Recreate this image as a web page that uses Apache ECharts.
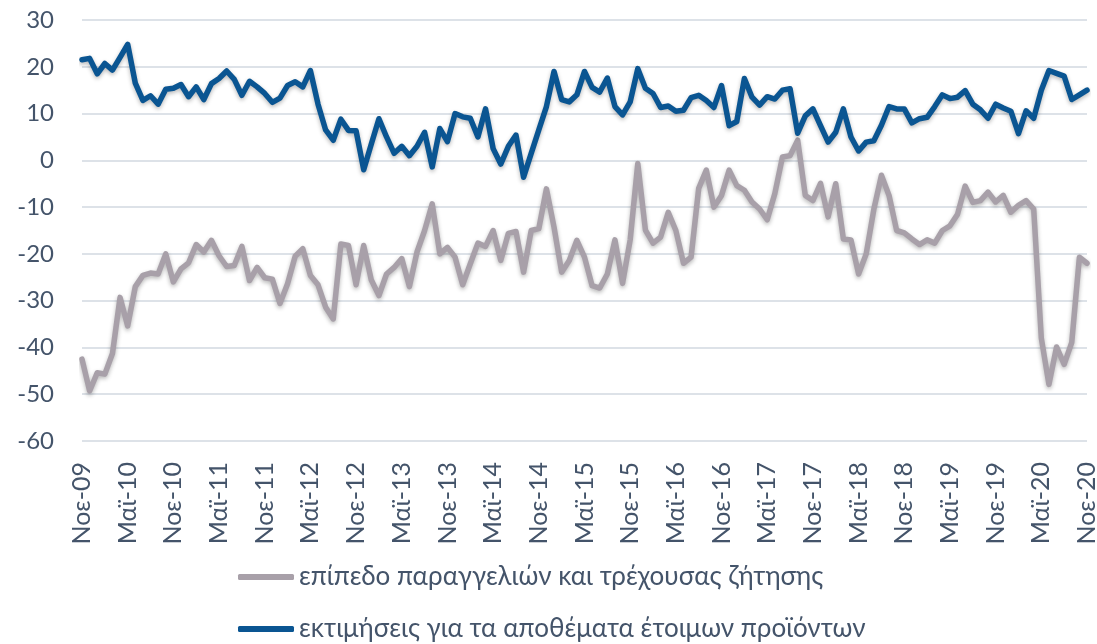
<!DOCTYPE html>
<html>
<head>
<meta charset="utf-8">
<script src="https://cdn.jsdelivr.net/npm/echarts@6/dist/echarts.min.js"></script>
<style>
  html, body { margin: 0; padding: 0; background: #fff; }
  #chart { width: 1097px; height: 644px; }
</style>
</head>
<body>
<div id="chart"></div>
<script>
// month labels, Nov-09 .. Nov-20
const monthNames = ['Ιαν', 'Φεβ', 'Μαρ', 'Απρ', 'Μαϊ', 'Ιουν', 'Ιουλ', 'Αυγ', 'Σεπ', 'Οκτ', 'Νοε', 'Δεκ'];
const startYear = 2009, startMonth = 10, monthCount = 133;
const categories = [];
for (let i = 0; i < monthCount; i++) {
    const m = (startMonth + i) % 12;
    const y = startYear + Math.floor((startMonth + i) / 12);
    categories.push(monthNames[m] + '-' + String(y).slice(2));
}

const seriesNames = [
    'επίπεδο παραγγελιών και τρέχουσας ζήτησης',
    'εκτιμήσεις για τα αποθέματα έτοιμων προϊόντων'
];

// orders / current demand
const ordersDemand = [
    -42.5, -49.3, -45.4, -45.7, -41.3, -29.3, -35.4, -27, -24.6, -24.1,
    -24.3, -20, -26, -23.2, -21.9, -18, -19.6, -17.1, -20.4, -22.7,
    -22.5, -18.4, -25.7, -22.9, -25.1, -25.4, -30.6, -26.4, -20.5, -18.9,
    -24.6, -26.6, -31.4, -33.9, -17.9, -18.2, -26.6, -18.2, -25.6, -28.9,
    -24.3, -22.9, -21, -27, -19.6, -15, -9.3, -20, -18.6, -20.7,
    -26.6, -22.1, -17.7, -18.4, -15, -21.4, -15.6, -15.2, -23.9, -15,
    -14.6, -6.1, -14.3, -23.9, -21.4, -17.1, -20.7, -26.8, -27.3, -24.3,
    -17, -26.3, -17, -0.7, -14.9, -17.7, -16.4, -11.1, -15, -22,
    -20.7, -6, -2.1, -10, -7.5, -2.1, -5.4, -6.4, -8.9, -10.4,
    -12.7, -7.1, 0.7, 1, 4.3, -7.5, -8.6, -4.9, -12.1, -5,
    -16.8, -17, -24.3, -20, -10.5, -3.2, -7.5, -15, -15.5, -16.8,
    -18, -17, -17.7, -15, -14, -11.5, -5.5, -9, -8.6, -6.8,
    -8.9, -7.5, -11.1, -9.6, -8.6, -10.4, -38, -47.9, -39.9, -43.6,
    -38.9, -20.7, -22
];

// finished goods stocks
const stocks = [
    21.5, 21.8, 18.5, 20.7, 19.3, 22, 24.8, 16.5, 12.8, 13.8,
    12, 15.2, 15.4, 16.2, 13.6, 15.7, 13, 16.4, 17.5, 19.1,
    17.3, 13.9, 16.9, 15.7, 14.3, 12.4, 13.3, 16, 16.8, 15.7,
    19.2, 12, 6.5, 4.3, 8.8, 6.4, 6.3, -2, 3.5, 8.9,
    5, 1.5, 3, 1, 3, 6, -1.4, 6.8, 4, 10,
    9.3, 9, 5, 11, 2.5, -0.8, 3, 5.4, -3.6, 1.5,
    6.5, 11.5, 19, 13, 12.5, 14, 19, 15.6, 14.6, 17.6,
    11.5, 9.7, 12.5, 19.6, 15.4, 14.3, 11.3, 11.6, 10.5, 10.7,
    13.4, 13.9, 12.8, 11.3, 16, 7.4, 8.3, 17.5, 13.5, 11.8,
    13.6, 13.1, 15, 15.3, 5.8, 9.5, 11, 7.4, 3.9, 6,
    11, 5, 2, 3.9, 4.2, 7.5, 11.5, 11, 11, 8,
    8.9, 9.2, 11.5, 14, 13.2, 13.5, 14.9, 12, 10.8, 9,
    12, 11.2, 10.5, 5.7, 10.6, 9, 15, 19.2, 18.6, 18,
    13, 14, 15
];

const colors = ['#a8a0a9', '#0a5592'];
const textColor = '#44546a';
const fontFamily = "Lato, 'Noto Sans', sans-serif";

const chart = echarts.init(document.getElementById('chart'), null, { renderer: 'canvas' });

const lineSeries = (name, data, color) => ({
    type: 'line',
    name,
    data,
    showSymbol: false,
    symbol: 'none',
    smooth: false,
    lineStyle: {
        color,
        width: 5.5,
        cap: 'round',
        join: 'round',
        shadowColor: 'rgba(0,0,0,0.28)',
        shadowBlur: 4,
        shadowOffsetY: 2
    },
    itemStyle: { color },
    animation: false
});

// one legend row per series
const legendRow = (name, top) => ({
    orient: 'horizontal',
    left: 238,
    top,
    padding: 0,
    itemWidth: 56,
    itemHeight: 6,
    icon: 'roundRect',
    textStyle: { color: textColor, fontSize: 26, fontFamily },
    data: [name]
});

chart.setOption({
    backgroundColor: '#fff',
    color: colors,
    textStyle: { fontFamily },
    grid: { left: 82, right: 10, top: 20, bottom: 203, outerBoundsMode: 'none' },
    legend: [
        legendRow(seriesNames[0], 564),
        legendRow(seriesNames[1], 616)
    ],
    xAxis: {
        type: 'category',
        data: categories,
        boundaryGap: false,
        axisLine: { show: false },
        axisTick: { show: false },
        axisLabel: {
            interval: 5,
            rotate: 90,
            margin: 21,
            color: textColor,
            fontSize: 25,
            fontFamily
        },
        splitLine: { show: false }
    },
    yAxis: {
        type: 'value',
        min: -60,
        max: 30,
        interval: 10,
        axisLine: { show: false },
        axisTick: { show: false },
        axisLabel: { color: textColor, fontSize: 24, margin: 0, padding: [0, 28, 0, 0], fontFamily },
        splitLine: { lineStyle: { color: '#dde2e8', width: 2 } }
    },
    series: [
        lineSeries(seriesNames[0], ordersDemand, colors[0]),
        lineSeries(seriesNames[1], stocks, colors[1])
    ]
});

window.addEventListener('resize', () => chart.resize());
</script>
</body>
</html>
